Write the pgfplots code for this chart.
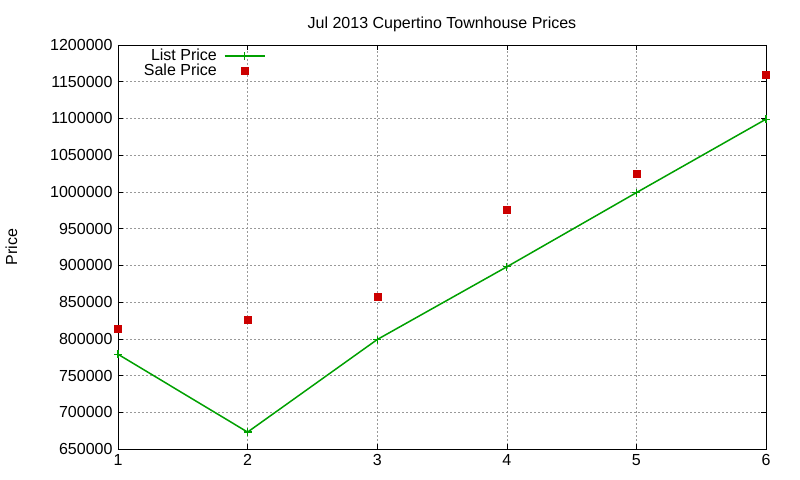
\documentclass[border=0pt]{standalone}
\usepackage{fontspec}
\setmainfont{Liberation Sans}
\usepackage{pgfplots}
\pgfplotsset{compat=1.18}

\definecolor{listgreen}{RGB}{0,160,0}
\definecolor{salered}{RGB}{204,0,0}

\pgfplotsset{
  longline legend/.style={
    legend image code/.code={
      \draw[mark repeat=2, mark phase=2, ##1] plot coordinates {(0bp,0bp) (20bp,0bp) (40bp,0bp)};
    }
  },
  dot legend/.style={
    legend image code/.code={
      \draw[##1] plot coordinates {(20bp,0bp)};
    }
  },
}

\begin{document}
\begin{tikzpicture}
\fontsize{16bp}{18bp}\selectfont
\begin{axis}[
  scale only axis,
  width=648bp, height=404bp,
  xmin=1, xmax=6, ymin=650000, ymax=1200000,
  xtick={1,2,3,4,5,6},
  ytick distance=50000,
  scaled y ticks=false,
  /pgf/number format/.cd, fixed, 1000 sep={}, assume math mode=true,
  /pgfplots/.cd,
  tick label style={font=\fontsize{16bp}{18bp}\selectfont},
  tick align=inside,
  major tick length=5bp,
  tick style={black, line width=0.5bp},
  axis line style={black, line width=0.8bp},
  grid=major,
  grid style={gray!80, dash pattern=on 2bp off 2bp, line width=0.5bp},
  title={Jul 2013 Cupertino Townhouse Prices},
  title style={font=\fontsize{16bp}{18bp}\selectfont, yshift=2bp},
  ylabel={Price},
  ylabel style={font=\fontsize{16bp}{18bp}\selectfont, yshift=22bp},
  legend style={draw=none, fill=none, at={(0.032,1.0)}, anchor=north west,
    row sep=-3bp, column sep=5bp, font=\fontsize{16bp}{16bp}\selectfont},
  legend cell align=right,
  legend plot pos=right,
]
\addplot[listgreen, line width=1.5bp, mark=+, mark size=4bp, mark options={line width=1.2bp}, longline legend] coordinates {
  (1,779000) (2,673000) (3,799000) (4,898000) (5,999000) (6,1099000)
};
\addlegendentry{List Price}
\addplot[only marks, mark=square*, salered, mark size=3.5bp, dot legend] coordinates {
  (1,814000) (2,826000) (3,857000) (4,976000) (5,1025000) (6,1160000)
};
\addlegendentry{Sale Price}
\coordinate (ll) at (rel axis cs:0,0);
\coordinate (ur) at (rel axis cs:1,1);
\end{axis}
\pgfresetboundingbox
\path[use as bounding box] ([xshift=-118bp,yshift=-31bp]ll) rectangle ([xshift=34bp,yshift=45bp]ur);
\end{tikzpicture}
\end{document}
